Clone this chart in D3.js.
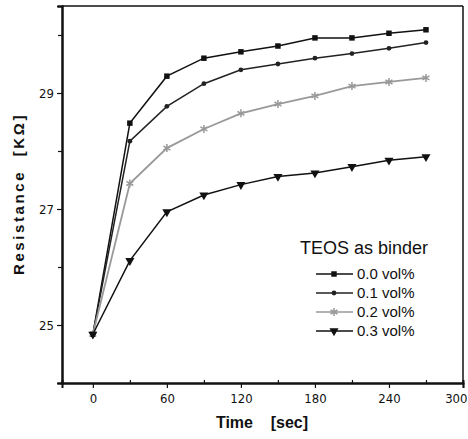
<!DOCTYPE html>
<html>
<head>
<meta charset="utf-8">
<script src="https://cdn.jsdelivr.net/npm/d3@7"></script>
<style>
  body { margin: 0; background: #fff; }
  text { font-family: "Liberation Sans", Arial, sans-serif; fill: #111; }
</style>
</head>
<body>
<script>
// time points (sec)
let times = [0, 30, 60, 90, 120, 150, 180, 210, 240, 270];

let vol00 = [24.84, 28.48, 29.29, 29.6, 29.71, 29.81, 29.95, 29.95, 30.03, 30.09];
let vol01 = [24.84, 28.17, 28.77, 29.16, 29.4, 29.5, 29.6, 29.68, 29.77, 29.87];
let vol02 = [24.84, 27.44, 28.05, 28.38, 28.65, 28.81, 28.95, 29.12, 29.19, 29.26];
let vol03 = [24.84, 26.11, 26.95, 27.24, 27.42, 27.56, 27.62, 27.73, 27.84, 27.9];

let seriesNames = ["0.0 vol%", "0.1 vol%", "0.2 vol%", "0.3 vol%"];
let xTicks = [0, 60, 120, 180, 240, 300];
let yTicks = [25, 27, 29];

let w = 468, h = 439;
let padL = 62, padR = 463, padT = 6, padB = 383;

let x = d3.scaleLinear().domain([-25, 300]).range([padL, padR]);
let y = d3.scaleLinear().domain([24, 30.5]).range([padB, padT]);

let svg = d3.select("body").append("svg")
  .attr("width", w)
  .attr("height", h);

// frame
svg.append("line").attr("x1", padL).attr("x2", padR).attr("y1", padT).attr("y2", padT)
  .attr("stroke", "#111").attr("stroke-width", 1.5);
svg.append("line").attr("x1", padR).attr("x2", padR).attr("y1", padT).attr("y2", padB)
  .attr("stroke", "#111").attr("stroke-width", 1.5);

// axes
let xAxis = svg.append("g").attr("transform", "translate(0," + padB + ")")
  .call(d3.axisBottom(x).tickValues(xTicks).tickSize(5).tickPadding(6));
let xMinor = svg.append("g").attr("transform", "translate(0," + padB + ")")
  .call(d3.axisTop(x).tickValues([30, 90, 150, 210, 270]).tickSize(3).tickFormat(""));
let yAxis = svg.append("g").attr("transform", "translate(" + padL + ",0)")
  .call(d3.axisLeft(y).tickValues(yTicks).tickSize(5).tickPadding(3).tickFormat(d3.format("d")));
let yMinor = svg.append("g").attr("transform", "translate(" + padL + ",0)")
  .call(d3.axisLeft(y).tickValues([26, 28, 30]).tickSize(4).tickFormat(""));

[xAxis, xMinor, yAxis, yMinor].forEach(function(g) {
  g.select(".domain").attr("stroke", "#111").attr("stroke-width", 2);
  g.selectAll(".tick line").attr("stroke", "#111").attr("stroke-width", 1.2);
  g.selectAll("text").attr("font-size", 13).attr("fill", "#111")
    .style("font-family", "'DejaVu Sans Condensed', 'Liberation Sans', Arial, sans-serif");
});
// last x label sits inside the right edge
xAxis.selectAll(".tick text").filter(function(d) { return d == 300; })
  .attr("text-anchor", "end").attr("dx", 4);

// axis titles
svg.append("text")
  .attr("transform", "translate(24," + 194 + ") rotate(-90)")
  .attr("text-anchor", "middle")
  .attr("font-size", 15)
  .attr("font-weight", "bold")
  .attr("letter-spacing", 2.6)
  .attr("xml:space", "preserve")
  .text("Resistance  [K\u03A9]");

svg.append("text")
  .attr("x", 262).attr("y", 428)
  .attr("text-anchor", "middle")
  .attr("font-size", 16)
  .attr("font-weight", "bold")
  .attr("xml:space", "preserve")
  .text("Time    [sec]");

// series
let allSeries = [vol00, vol01, vol02, vol03];
let colors = ["#111", "#222", "#999", "#111"];
let shapes = [d3.symbolSquare, d3.symbolCircle, d3.symbolAsterisk, d3.symbolTriangle];
let sizes = [30, 18, 45, 36];

let line = d3.line()
  .x(function(d, i) { return x(times[i]); })
  .y(function(d) { return y(d); });

function marker(g, k, cx, cy) {
  let p = g.append("path")
    .attr("d", d3.symbol().type(shapes[k]).size(sizes[k])())
    .attr("transform", "translate(" + cx + "," + cy + ")" + (k == 3 ? " rotate(180)" : ""));
  if (k == 2) {
    p.attr("fill", "none").attr("stroke", colors[k]).attr("stroke-width", 1.5);
  } else {
    p.attr("fill", colors[k]);
  }
}

allSeries.forEach(function(vals, k) {
  svg.append("path")
    .datum(vals)
    .attr("d", line)
    .attr("fill", "none")
    .attr("stroke", colors[k])
    .attr("stroke-width", k == 2 ? 1.8 : 1.5);
  let g = svg.append("g");
  vals.forEach(function(v, i) {
    marker(g, k, x(times[i]), y(v));
  });
});

// legend
svg.append("text")
  .attr("x", 364).attr("y", 254)
  .attr("text-anchor", "middle")
  .attr("font-size", 18)
  .text("TEOS as binder");

seriesNames.forEach(function(name, k) {
  let ly = 274 + k * 19;
  svg.append("line")
    .attr("x1", 316).attr("x2", 353)
    .attr("y1", ly).attr("y2", ly)
    .attr("stroke", colors[k]).attr("stroke-width", 1.5);
  marker(svg, k, 334, ly);
  svg.append("text")
    .attr("x", 357).attr("y", ly + 5)
    .attr("font-size", 15)
    .text(name);
});
</script>
</body>
</html>
